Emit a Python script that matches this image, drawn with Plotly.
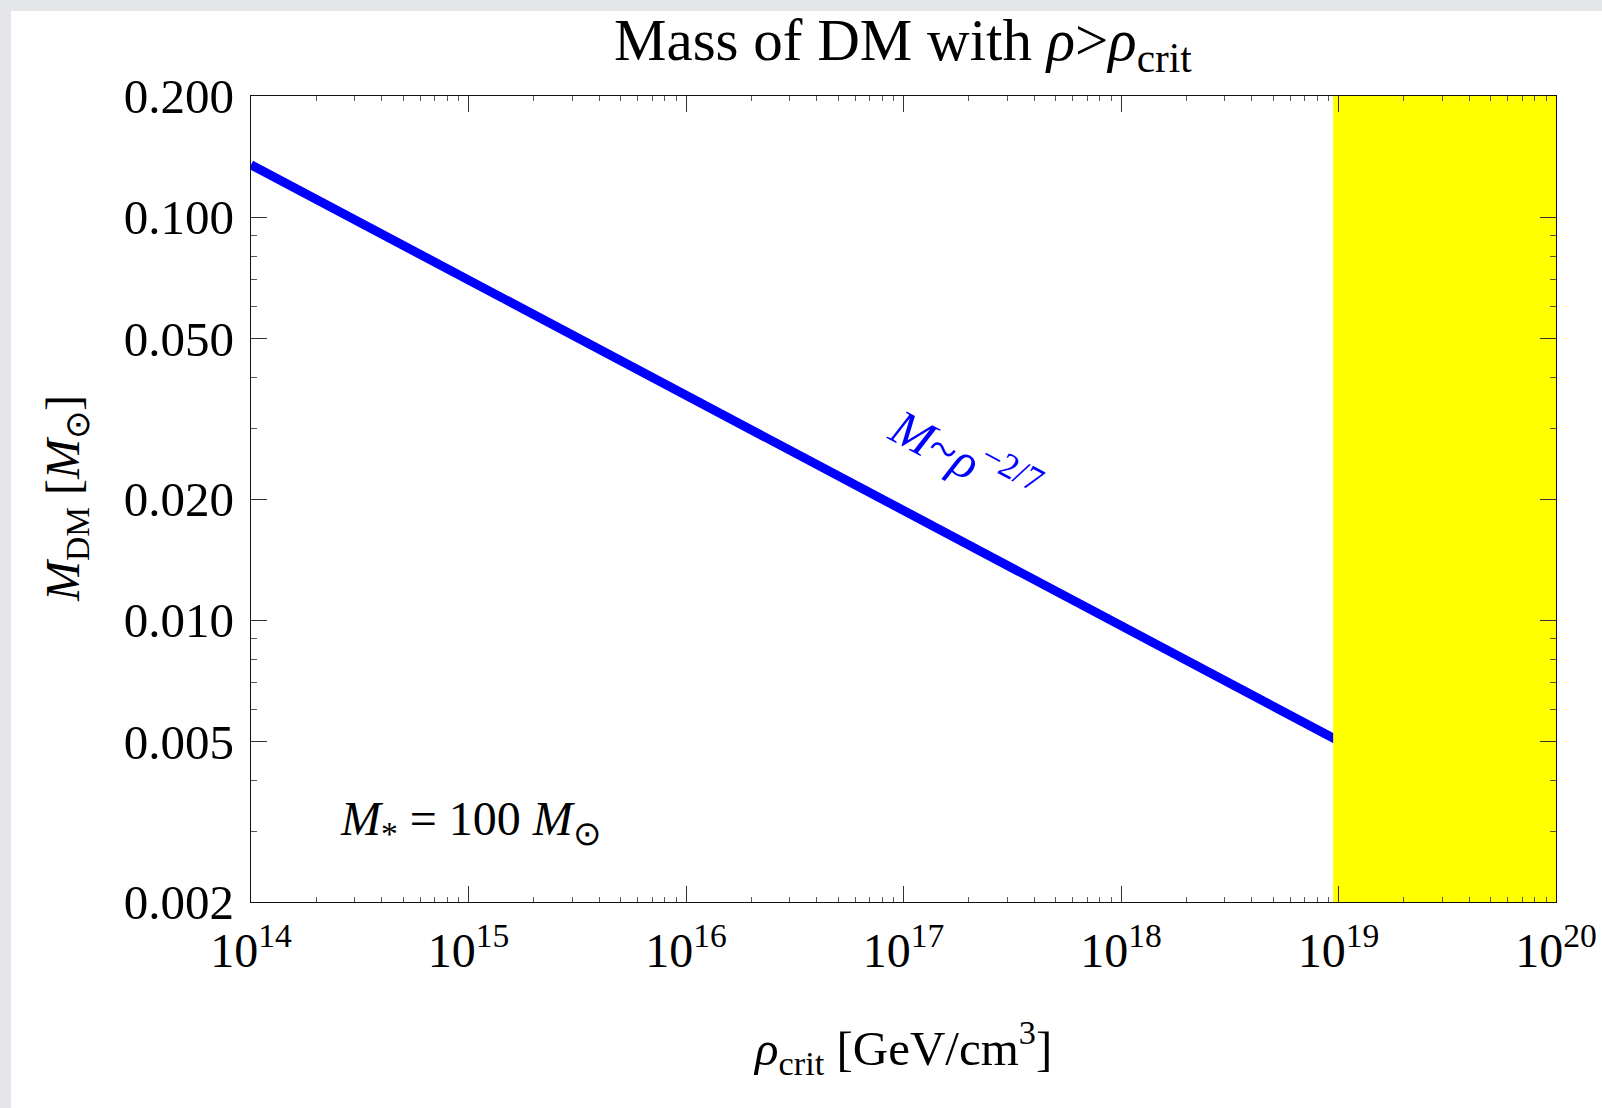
import math
import plotly.graph_objects as go

# ---- data ----
rho_crit = [1e14, 1e15, 1e16, 1e17, 1e18, 1e19, 1e20]          # GeV/cm^3
mass_dm = [0.135, 0.0699, 0.0362, 0.0188, 0.0097, 0.00503, 0.0026]  # M_sun

band_x = [9.45e18, 1e20]      # yellow excluded region in rho
band_y = [0.002, 0.2]

x_tickvals = [1e14, 1e15, 1e16, 1e17, 1e18, 1e19, 1e20]
x_ticktext = ["10<sup>14</sup>", "10<sup>15</sup>", "10<sup>16</sup>", "10<sup>17</sup>",
              "10<sup>18</sup>", "10<sup>19</sup>", "10<sup>20</sup>"]
x_minor = [m * 10.0 ** k for k in range(14, 20) for m in range(2, 10)]

y_tickvals = [0.002, 0.005, 0.01, 0.02, 0.05, 0.1, 0.2]
y_ticktext = ["0.002", "0.005", "0.010", "0.020", "0.050", "0.100", "0.200"]
y_minor = [0.003, 0.004, 0.006, 0.007, 0.008, 0.009, 0.03, 0.04, 0.06, 0.07, 0.08, 0.09]

FONT = "Liberation Serif, Times New Roman, serif"

fig = go.Figure()
fig.add_trace(go.Scatter(x=rho_crit, y=mass_dm, mode="lines",
                         line=dict(color="#0000ff", width=9), hoverinfo="skip",
                         showlegend=False))
fig.add_trace(go.Scatter(x=[band_x[0], band_x[1], band_x[1], band_x[0], band_x[0]],
                         y=[band_y[0], band_y[0], band_y[1], band_y[1], band_y[0]],
                         mode="lines", fill="toself", fillcolor="#ffff00",
                         line=dict(width=0, color="#ffff00"), hoverinfo="skip",
                         showlegend=False))

fig.update_xaxes(type="log", range=[14, 20], tickmode="array", tickvals=x_tickvals,
                 ticktext=x_ticktext, ticks="inside", ticklen=16, tickwidth=1,
                 tickcolor="#333333", showline=True, linecolor="#111111", linewidth=1.3,
                 mirror="allticks", showgrid=False, zeroline=False, automargin=False,
                 ticklabeloverflow="allow",
                 tickfont=dict(family=FONT, size=48, color="black"),
                 ticklabelstandoff=6,
                 minor=dict(tickmode="array", tickvals=x_minor, ticks="inside", ticklen=5,
                            tickwidth=1, tickcolor="#555555", showgrid=False))
fig.update_yaxes(type="log", range=[math.log10(0.002), math.log10(0.2)], tickmode="array",
                 tickvals=y_tickvals, ticktext=y_ticktext, ticks="inside", ticklen=16,
                 tickwidth=1, tickcolor="#333333", showline=True, linecolor="#111111",
                 linewidth=1.3, mirror="allticks", showgrid=False, zeroline=False,
                 automargin=False, ticklabeloverflow="allow",
                 tickfont=dict(family=FONT, size=49, color="black"),
                 ticklabelstandoff=6,
                 minor=dict(tickmode="array", tickvals=y_minor, ticks="inside", ticklen=6,
                            tickwidth=1, tickcolor="#555555", showgrid=False))

L, R, T, B = 251, 46, 96, 206
W, H = 1602, 1108
pw, ph = W - L - R, H - T - B

def px(x):
    return (x - L) / pw

def py(y):
    return (H - B - y) / ph

shapes = [
    dict(type="rect", xref="paper", yref="paper", x0=px(-20), x1=px(11), y0=py(1200), y1=py(-20),
         fillcolor="#e4e6ea", line=dict(width=0), layer="below"),
    dict(type="rect", xref="paper", yref="paper", x0=px(-20), x1=px(1700), y0=py(11), y1=py(-20),
         fillcolor="#e4e6ea", line=dict(width=0), layer="below"),
]

annotations = [
    dict(text="Mass of DM with <i>ρ</i>><i>ρ</i><sub>crit</sub>", xref="paper", yref="paper",
         x=px(903), y=py(44), xanchor="center", yanchor="middle", showarrow=False,
         font=dict(family=FONT, size=59, color="black")),
    dict(text="<i>M</i><sub>DM</sub> [<i>M</i><sub>⊙</sub>]", xref="paper", yref="paper",
         x=px(66), y=0.5, xanchor="center", yanchor="middle", textangle=-90, showarrow=False,
         font=dict(family=FONT, size=48, color="black")),
    dict(text="<i>ρ</i><sub>crit</sub> [GeV/cm<sup>3</sup>]", xref="paper", yref="paper",
         x=px(902), y=py(1047), xanchor="center", yanchor="middle", showarrow=False,
         font=dict(family=FONT, size=49, color="black")),
    dict(text="<i>M</i><sub>*</sub> = 100 <i>M</i><sub>⊙</sub>", xref="paper", yref="paper",
         x=px(338), y=py(822), xanchor="left", yanchor="middle", showarrow=False,
         font=dict(family=FONT, size=48, color="black")),
    dict(text="<i>M</i>~<i>ρ</i><sup>−2/7</sup>", xref="paper", yref="paper",
         x=px(965), y=py(457), xanchor="center", yanchor="middle", textangle=28,
         showarrow=False, font=dict(family=FONT, size=50, color="#0000ff")),
]

fig.update_layout(width=W, height=H, margin=dict(l=L, r=R, t=T, b=B, pad=0),
                  paper_bgcolor="white", plot_bgcolor="white",
                  shapes=shapes, annotations=annotations, showlegend=False)

fig.write_html("out.html", config={"displayModeBar": False},
               post_script="document.body.style.margin='0px';document.body.style.overflow='hidden';")
